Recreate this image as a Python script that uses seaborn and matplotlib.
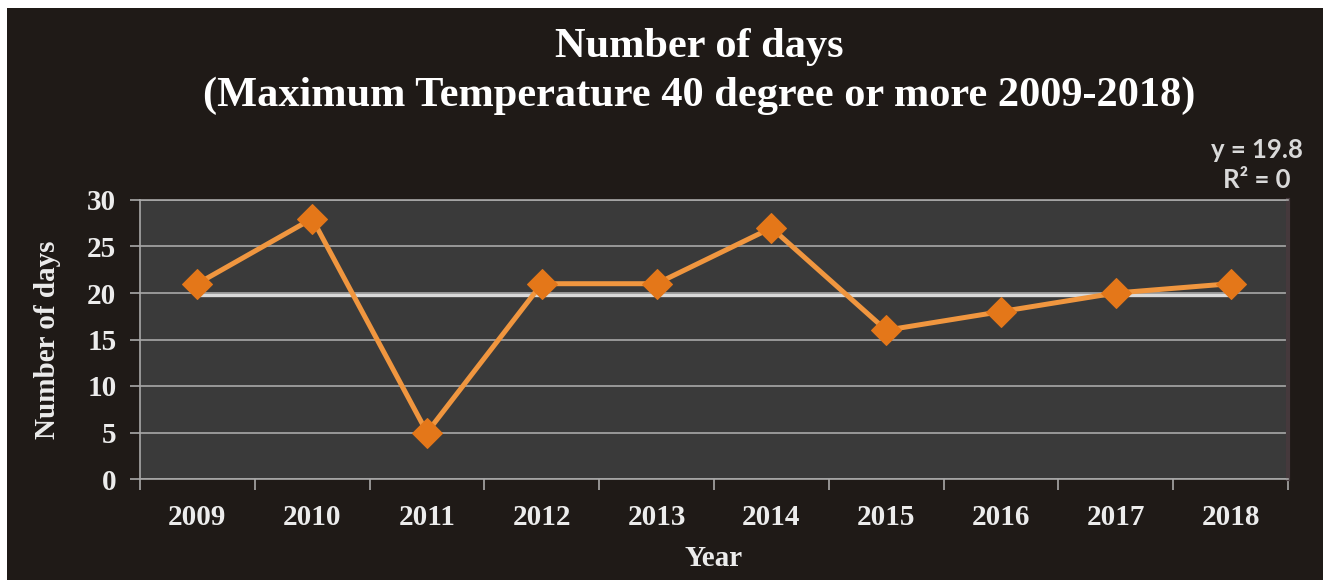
import matplotlib
matplotlib.use('Agg')
import matplotlib.pyplot as plt
from matplotlib.patches import Rectangle
from matplotlib.ticker import FixedLocator
import numpy as np
import pandas as pd
import seaborn as sns

# values
years = ['2009', '2010', '2011', '2012', '2013', '2014', '2015', '2016', '2017', '2018']
days = [21, 28, 5, 21, 21, 27, 16, 18, 20, 21]
y_ticks = [0, 5, 10, 15, 20, 25, 30]

title_lines = ['Number of days', '(Maximum Temperature 40 degree or more 2009-2018)']

bg_color = '#1f1a17'
plot_bg = '#3a3a3a'
grid_color = '#a8a8a8'
text_color = '#ececec'
line_color = '#f0963f'
marker_color = '#e47719'
trend_color = '#d9d9d9'

sns.set_style('dark')
plt.rcParams['font.family'] = ['Liberation Serif', 'DejaVu Serif']

df = pd.DataFrame({'year': years, 'days': days})
# order-0 trendline (mean), as in the original
trend = np.polyfit(np.arange(len(days)), days, 0)[0]
trend_df = pd.DataFrame({'year': years, 'days': [trend] * len(years)})

fig = plt.figure(figsize=(13.23, 5.8), dpi=100, facecolor='white')
fig.patches.append(Rectangle((7 / 1323, 0), 1, 1 - 8 / 580, transform=fig.transFigure,
                             facecolor=bg_color, edgecolor='none', zorder=-10))

ax = fig.add_axes([140 / 1323, 1 - 479 / 580, 1148 / 1323, 279 / 580])
ax.set_facecolor(plot_bg)

sns.lineplot(data=trend_df, x='year', y='days', color=trend_color, lw=2.4, ax=ax, zorder=2)
sns.lineplot(data=df, x='year', y='days', color=line_color, lw=3.6,
             marker='D', markersize=15, markerfacecolor=marker_color,
             markeredgecolor=marker_color, ax=ax, zorder=3)

ax.set_xlim(-0.5, len(years) - 0.5)
ax.set_ylim(0, 30)
ax.set_yticks(y_ticks)
ax.yaxis.grid(True, color=grid_color, lw=1.2)
ax.xaxis.grid(False)

# category boundary ticks like Excel
ax.xaxis.set_minor_locator(FixedLocator(np.arange(-0.5, len(years), 1.0)))
ax.tick_params(axis='x', which='both', bottom=True)
ax.tick_params(axis='y', which='both', left=True)
ax.tick_params(axis='x', which='major', length=0, pad=18)
ax.tick_params(axis='x', which='minor', length=8, width=1.2, color=grid_color, direction='out')
ax.tick_params(axis='y', which='major', length=7, width=1.2, color=grid_color, direction='out', pad=10)
for lbl in ax.get_xticklabels() + ax.get_yticklabels():
    lbl.set_fontsize(21)
    lbl.set_fontweight('bold')
    lbl.set_color(text_color)

for side in ['left', 'bottom', 'top']:
    ax.spines[side].set_visible(True)
    ax.spines[side].set_color(grid_color)
    ax.spines[side].set_linewidth(1.2)
ax.spines['right'].set_visible(True)
ax.spines['right'].set_color('#45393c')
ax.spines['right'].set_linewidth(3)

ax.set_xlabel('Year', fontsize=21, fontweight='bold', color=text_color)
ax.set_ylabel('Number of days', fontsize=21, fontweight='bold', color=text_color)
ax.xaxis.set_label_coords(0.5, -0.235)
ax.yaxis.set_label_coords(-0.069, 0.5)

fig.text(699 / 1323, 1 - 47 / 580, title_lines[0], ha='center', va='center',
         fontsize=30.5, fontweight='bold', color='white')
fig.text(699 / 1323, 1 - 96 / 580, title_lines[1], ha='center', va='center',
         fontsize=30.5, fontweight='bold', color='white')

fig.text(1257 / 1323, 1 - 165 / 580, f'y = {trend:.1f}\nR\u00b2 = 0', ha='center', va='center',
         multialignment='center', fontsize=18.5, fontweight='bold', color=trend_color,
         family=['Lato', 'DejaVu Sans'], linespacing=1.3)

fig.savefig('out.png', dpi=100, facecolor=fig.get_facecolor())
